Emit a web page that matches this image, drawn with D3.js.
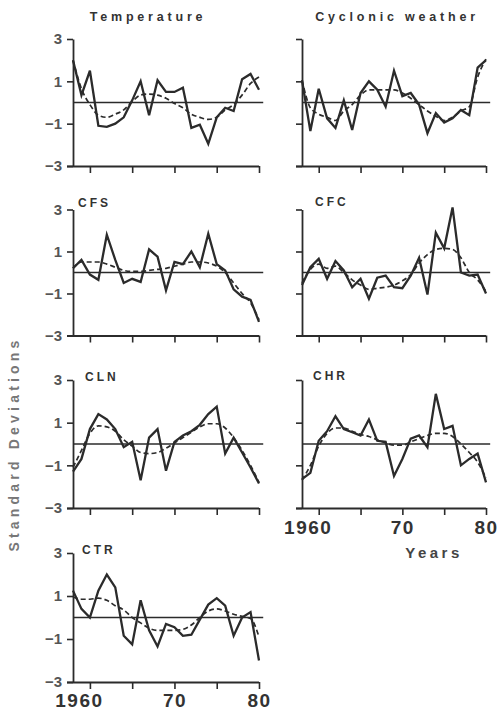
<!DOCTYPE html>
<html><head><meta charset="utf-8">
<script src="https://cdn.jsdelivr.net/npm/d3@7"></script>
<style>body{margin:0;background:#fff}svg{display:block}</style>
</head><body><svg id="chart" width="500" height="710"></svg>
<script>
// ---- data ----
const years = [1958,1959,1960,1961,1962,1963,1964,1965,1966,1967,1968,1969,1970,1971,1972,1973,1974,1975,1976,1977,1978,1979,1980];
const yTicks = [3, 1, -1, -3];
const xTicks = [1960, 1965, 1970, 1975, 1980];
const xTickLabels = ["1960", "", "70", "", "80"];
const panelNames = ["Temperature", "Cyclonic weather", "CFS", "CFC", "CLN", "CHR", "CTR"];

const temperatureObs    = [2.0, 0.35, 1.5, -1.1, -1.15, -1.0, -0.7, 0.1, 1.0, -0.6, 1.05, 0.5, 0.5, 0.7, -1.2, -1.05, -1.95, -0.7, -0.25, -0.4, 1.1, 1.35, 0.6];
const temperatureSmooth = [2.0, 0.65, -0.1, -0.6, -0.7, -0.55, -0.35, 0.05, 0.35, 0.4, 0.35, 0.2, -0.05, -0.25, -0.55, -0.7, -0.8, -0.7, -0.35, -0.1, 0.35, 0.9, 1.2];
const cyclonicObs       = [1.05, -1.35, 0.65, -0.75, -1.2, 0.1, -1.3, 0.45, 1.0, 0.6, -0.2, 1.5, 0.3, 0.45, -0.1, -1.45, -0.5, -0.95, -0.75, -0.35, -0.6, 1.65, 2.0];
const cyclonicSmooth    = [1.05, -0.25, -0.55, -0.7, -0.85, -0.4, -0.1, 0.35, 0.6, 0.6, 0.6, 0.6, 0.45, 0.2, -0.1, -0.4, -0.65, -0.85, -0.7, -0.4, -0.2, 1.2, 2.05];
const cfsObs            = [0.2, 0.6, -0.1, -0.35, 1.8, 0.6, -0.5, -0.3, -0.45, 1.1, 0.75, -0.85, 0.5, 0.4, 1.0, 0.25, 1.85, 0.4, 0.1, -0.8, -1.15, -1.3, -2.35];
const cfsSmooth         = [0.2, 0.5, 0.5, 0.5, 0.4, 0.25, 0.1, 0.05, 0.05, 0.1, 0.15, 0.2, 0.3, 0.4, 0.5, 0.5, 0.45, 0.3, 0.0, -0.5, -1.0, -1.45, -2.25];
const cfcObs            = [-0.6, 0.25, 0.65, -0.3, 0.55, 0.1, -0.7, -0.3, -1.25, -0.25, -0.15, -0.7, -0.75, -0.15, 0.7, -1.05, 1.9, 1.15, 3.1, 0.0, -0.15, -0.1, -1.0];
const cfcSmooth         = [-0.5, 0.15, 0.4, 0.2, 0.3, 0.0, -0.35, -0.6, -0.8, -0.75, -0.7, -0.6, -0.4, -0.1, 0.45, 0.85, 1.1, 1.15, 1.1, 0.7, 0.0, -0.35, -0.9];
const clnObs            = [-1.3, -0.7, 0.7, 1.4, 1.15, 0.7, -0.15, 0.1, -1.7, 0.3, 0.7, -1.25, 0.1, 0.4, 0.6, 0.9, 1.4, 1.75, -0.45, 0.3, -0.4, -1.1, -1.85];
const clnSmooth         = [-1.1, -0.3, 0.5, 0.85, 0.8, 0.6, 0.2, -0.1, -0.4, -0.45, -0.4, -0.2, 0.05, 0.3, 0.55, 0.8, 0.95, 0.95, 0.75, 0.3, -0.3, -1.0, -1.8];
const chrObs            = [-1.65, -1.35, 0.15, 0.6, 1.3, 0.7, 0.55, 0.4, 1.15, 0.15, 0.1, -1.5, -0.7, 0.25, 0.4, -0.15, 2.35, 0.7, 0.85, -1.0, -0.7, -0.45, -1.8];
const chrSmooth         = [-1.7, -1.0, -0.1, 0.5, 0.75, 0.75, 0.6, 0.45, 0.35, 0.2, 0.05, -0.05, -0.05, 0.1, 0.25, 0.4, 0.5, 0.5, 0.35, 0.0, -0.4, -0.85, -1.6];
const ctrObs            = [1.25, 0.4, 0.0, 1.25, 2.0, 1.4, -0.85, -1.25, 0.8, -0.6, -1.35, -0.3, -0.45, -0.85, -0.8, -0.1, 0.6, 0.9, 0.55, -0.85, 0.0, 0.25, -2.0];
const ctrSmooth         = [0.95, 0.85, 0.85, 0.9, 0.8, 0.55, 0.35, 0.0, -0.25, -0.5, -0.6, -0.6, -0.6, -0.55, -0.35, 0.0, 0.3, 0.4, 0.3, 0.15, 0.05, -0.05, -0.9];

// ---- layout ----
const FONT = "'Liberation Sans', Arial, Helvetica, sans-serif";
const INK = "#2b2b2b";
const cols = [{x0: 73, x1: 259}, {x0: 302, x1: 486}];
const rows = [{top: 39, bottom: 166}, {top: 209.5, bottom: 335.5}, {top: 380, bottom: 508}, {top: 553, bottom: 682}];

const panels = [
  {name: panelNames[0], obs: temperatureObs, smooth: temperatureSmooth, col: 0, row: 0, header: true,  xlab: false},
  {name: panelNames[1], obs: cyclonicObs,    smooth: cyclonicSmooth,    col: 1, row: 0, header: true,  xlab: false},
  {name: panelNames[2], obs: cfsObs,         smooth: cfsSmooth,         col: 0, row: 1, header: false, xlab: false, lx: 5, ly: -3},
  {name: panelNames[3], obs: cfcObs,         smooth: cfcSmooth,         col: 1, row: 1, header: false, xlab: false, lx: 13, ly: -4},
  {name: panelNames[4], obs: clnObs,         smooth: clnSmooth,         col: 0, row: 2, header: false, xlab: false, lx: 12, ly: 1},
  {name: panelNames[5], obs: chrObs,         smooth: chrSmooth,         col: 1, row: 2, header: false, xlab: true,  lx: 11, ly: 0},
  {name: panelNames[6], obs: ctrObs,         smooth: ctrSmooth,         col: 0, row: 3, header: false, xlab: true,  lx: 9,  ly: 1}
];

const svg = d3.select("#chart");
svg.append("rect").attr("width", 500).attr("height", 710).attr("fill", "#fff");

panels.forEach(p => {
  const c = cols[p.col], r = rows[p.row];
  const x = d3.scaleLinear().domain([years[0], years[years.length - 1]]).range([c.x0, c.x1]);
  const y = d3.scaleLinear().domain([-3, 3]).range([r.bottom, r.top]);
  const g = svg.append("g");

  // y axis
  const ya = g.append("g").attr("transform", `translate(${c.x0},0)`)
    .call(d3.axisLeft(y).tickValues(yTicks).tickSize(6).tickSizeOuter(0).tickPadding(5)
      .tickFormat(d => p.col === 0 ? (d < 0 ? "\u2212" + (-d) : String(d)) : ""));
  ya.select(".domain").attr("stroke", INK).attr("stroke-width", 1.8);
  ya.selectAll(".tick line").attr("stroke", INK).attr("stroke-width", 1.6);
  ya.selectAll(".tick text").attr("font-family", FONT).attr("font-size", 15).attr("font-weight", "bold").attr("fill", "#555");

  // x axis
  const xa = g.append("g").attr("transform", `translate(0,${r.bottom})`)
    .call(d3.axisBottom(x).tickValues(xTicks).tickSize(7).tickSizeOuter(0)
      .tickFormat((d, i) => p.xlab ? xTickLabels[i] : ""));
  xa.select(".domain").attr("stroke", INK).attr("stroke-width", 1.8)
    .attr("d", `M${c.x0 - 6},0.5H${c.x1}`);
  xa.selectAll(".tick line").attr("stroke", INK).attr("stroke-width", 1.6);
  xa.selectAll(".tick text").attr("font-family", FONT).attr("font-size", 19).attr("font-weight", "bold")
    .attr("fill", "#333").attr("letter-spacing", 1.5).attr("y", p.row === 3 ? 25 : 26).attr("dy", 0)
    .attr("dx", d => d === xTicks[0] ? -11 : 0);

  // zero line
  g.append("line").attr("x1", c.x0).attr("x2", x(1980.5)).attr("y1", y(0)).attr("y2", y(0))
    .attr("stroke", INK).attr("stroke-width", 1.6);

  // smoothed (dashed)
  g.append("path").datum(p.smooth)
    .attr("d", d3.line().x((d, i) => x(years[i])).y(d => y(d)).curve(d3.curveMonotoneX))
    .attr("fill", "none").attr("stroke", INK).attr("stroke-width", 1.7).attr("stroke-dasharray", "5,3");

  // observed (solid)
  g.append("path").datum(p.obs)
    .attr("d", d3.line().x((d, i) => x(years[i])).y(d => y(d)))
    .attr("fill", "none").attr("stroke", INK).attr("stroke-width", 2.3).attr("stroke-linejoin", "miter");

  // labels
  if (p.header) {
    g.append("text").attr("x", (c.x0 + c.x1) / 2 + (p.col === 0 ? -18 : 3)).attr("y", 21)
      .attr("text-anchor", "middle").attr("font-family", FONT).attr("font-size", 12.5)
      .attr("font-weight", "bold").attr("letter-spacing", 3.8).attr("fill", "#333").text(p.name);
  } else {
    g.append("text").attr("x", c.x0 + p.lx).attr("y", r.top + p.ly)
      .attr("font-family", FONT).attr("font-size", 12).attr("font-weight", "bold")
      .attr("letter-spacing", 3).attr("fill", "#333").text(p.name);
  }
});

// axis titles
svg.append("text").attr("transform", "translate(19,444) rotate(-90)").attr("text-anchor", "middle")
  .attr("font-family", FONT).attr("font-size", 14).attr("font-weight", "bold").attr("letter-spacing", 4.2)
  .attr("fill", "#777").text("Standard Deviations");
svg.append("text").attr("x", 434).attr("y", 558).attr("text-anchor", "middle")
  .attr("font-family", FONT).attr("font-size", 15).attr("font-weight", "bold").attr("letter-spacing", 3.5)
  .attr("fill", "#444").text("Years");
</script></body></html>
